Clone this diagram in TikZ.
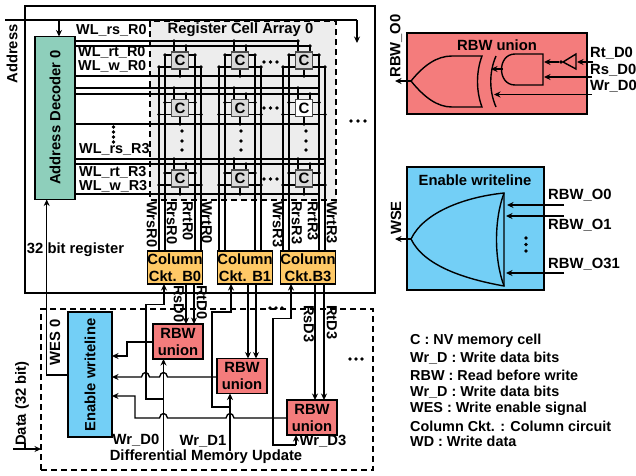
\documentclass[tikz,border=0pt]{standalone}
\usepackage{fontspec}
\setmainfont{Liberation Sans}
\usetikzlibrary{arrows.meta,calc}
\definecolor{teal1}{HTML}{8ECFBB}
\definecolor{gray1}{HTML}{EDEDED}
\definecolor{cellg}{HTML}{D9D9D9}
\definecolor{orng}{HTML}{FFC966}
\definecolor{rbwr}{HTML}{F47C7C}
\definecolor{ewb}{HTML}{73CFF6}
\newcommand{\hopx}[2]{-- (#1+4,#2) .. controls (#1+3,#2-6) and (#1-3,#2-6) .. (#1-4,#2)}
\tikzset{
 txt/.style={font=\bfseries\fontsize{14.8}{16.5}\selectfont,inner sep=0pt,align=center},
 wltxt/.style={font=\bfseries\fontsize{14.4}{16.5}\selectfont,inner sep=0pt,anchor=west},
 ltxt/.style={font=\bfseries\fontsize{14.4}{15}\selectfont,inner sep=0pt,anchor=west},
 vtxt/.style={font=\bfseries\fontsize{14.6}{16}\selectfont,inner sep=0pt,rotate=-90,anchor=west},
 wire/.style={line width=1.35pt,draw=black},
 arr/.style={wire,-{Stealth[length=6.5pt,width=6pt]}},
 solid box/.style={draw=black,line width=1.5pt,inner sep=0pt,outer sep=0pt,align=center,font=\bfseries\fontsize{14.8}{17}\selectfont},
 rbwbox/.style={solid box,fill=rbwr,minimum width=50pt,minimum height=35pt},
 cktbox/.style={solid box,fill=orng,minimum width=54pt,minimum height=33pt},
 cellbox/.style={draw=black!70,line width=1.3pt,fill=cellg,minimum width=17pt,minimum height=17pt,inner sep=0pt,outer sep=0pt,font=\bfseries\fontsize{15}{16}\selectfont},
 dashbox/.style={draw=black,line width=1.3pt,dash pattern=on 6pt off 4pt},
 gate/.style={line width=1.4pt,draw=black},
 pin/.style={circle,fill=black,inner sep=0pt,minimum size=3.6pt},
 bigdot/.style={circle,fill=black,inner sep=0pt,minimum size=3.8pt},
}
\begin{document}
\begin{tikzpicture}[x=1pt,y=-1pt]
\useasboundingbox (0,0) rectangle (636,475);
% frames
\node[draw=black,line width=1.4pt,minimum width=350pt,minimum height=287pt,inner sep=0pt,outer sep=0pt] (outer) at (200,149.5) {};
\fill[gray1] (150,21) rectangle (336,200);
\draw[dashbox] (150,21) rectangle (336,200);
\node[dashbox,minimum width=332pt,minimum height=161pt,inner sep=0pt,outer sep=0pt] (diff) at (207,389.5) {};
% decoder, address
\node[solid box,fill=teal1,minimum width=40pt,minimum height=163pt] (dec) at (55,118) {};
\node[txt,rotate=90] (dectxt) at (55,117.5) {Address Decoder 0};
\coordinate (addrL) at (5,20);
\coordinate (addrR) at (357,20);
\coordinate (addrE) at (357,43);
\draw[wire] (addrL) -- (addrR);
\draw[arr] (addrR) -- (addrE);
\draw[arr] (59,20) -- (dec.north -| 59,0);
\node[txt,rotate=90] (addrtxt) at (12,54) {Address};
\node[txt] (title) at (240.5,30) {Register Cell Array 0};
% wordlines
\foreach \yy/\xe in {41/298,46/310,76/318,88/319,94/319,124/319,159/325,164/325,194/318}
  \draw[wire] (dec.east |- 0,\yy) -- (\xe,\yy);
% bit lines
\foreach \cx/\ck in {180/ckA,240/ckB,304/ckC}{
  \coordinate (t1) at (\cx-21,67); \coordinate (t2) at (\cx-15,55);
  \coordinate (t3) at (\cx+15,55); \coordinate (t4) at (\cx+21,67);
  \draw[wire] (t1) -- (\cx-21,251);
  \draw[wire] (t2) -- (\cx-15,251);
  \draw[wire] (t3) -- (\cx+15,251);
  \draw[wire] (t4) -- (\cx+21,251);
}
% cells
\foreach \cx/\cn in {180/0,240/1,304/2}{
 \foreach \cy/\tp/\bt/\wl/\rn in {60.5/41/46/76/0,108/88/94/124/1,178.5/159/164/194/2}{
  \node[cellbox] (c\cn\rn) at (\cx,\cy) {C};
  \draw[wire] (\cx-6,\cy) -- (\cx-6,\tp) node[pin]{};
  \draw[wire] (\cx+6,\cy) -- (\cx+6,\bt) node[pin]{};
  \draw[wire] (c\cn\rn.south) -- (\cx,\wl) node[pin]{};
  \draw[wire] (c\cn\rn.west |- 0,\cy-5.5) -- (\cx-15,\cy-5.5) node[pin]{};
  \draw[wire] (c\cn\rn.west |- 0,\cy+6.5) -- (\cx-21,\cy+6.5) node[pin]{};
  \draw[wire] (c\cn\rn.east |- 0,\cy-5.5) -- (\cx+15,\cy-5.5) node[pin]{};
  \draw[wire] (c\cn\rn.east |- 0,\cy+6.5) -- (\cx+21,\cy+6.5) node[pin]{};
  \node[cellbox] (d\cn\rn) at (\cx,\cy) {C};
 }
}
\node[cellbox,fill=white] (d12w) at (304,108) {C};
% wordline labels
\node[wltxt] (l1) at (76,30) {WL\_rs\_R0};
\node[wltxt] (l2) at (78,52) {WL\_rt\_R0};
\node[wltxt] (l3) at (78,66) {WL\_w\_R0};
\node[wltxt] (l4) at (79,149) {WL\_rs\_R3};
\node[wltxt] (l5) at (79,172) {WL\_rt\_R3};
\node[wltxt] (l6) at (79,186) {WL\_w\_R3};
% dots
\foreach \n/\px/\py in {a/264/62,b/270.5/62,c/277/62,d/264/108,e/270.5/108,f/277/108,g/264/179,h/270.5/179,i/277/179,j/351/121,k/358/121,l/365/121,
 m/182/131,n/182/141,o/182/150,p/241/131,q/241/141,r/241/150,s/306/131,t/306/141,u/306/150,
 v/113.5/127,w/113.5/132,x/113.5/137,y/113.5/142,
 z/270/308,aa/276/308,ab/282/308,ac/350/359,ad/356/359,ae/362/359}
  \node[bigdot] (dot\n) at (\px,\py) {};
% column circuits
\node[cktbox] (ckA) at (175,267.5) {Column\\Ckt. B0};
\node[cktbox] (ckB) at (245,267.5) {Column\\Ckt. B1};
\node[cktbox] (ckC) at (308,267.5) {Column\\Ckt.B3};
% bit-line labels
\foreach \nm/\px/\tx in {wa/152/WrsR0,wb/172/RrsR0,wc/188/RrtR0,wd/207/WrtR0,we/278/WrsR3,wf/297/RrsR3,wg/313/RrtR3,wh/332/WrtR3}
  \node[vtxt] (\nm) at (\px,201) {\tx};
\node[vtxt] (rsd0) at (179,285) {RsD0};
\node[vtxt] (rtd0) at (202,285) {RtD0};
\node[vtxt] (rsd3) at (309,305) {RsD3};
\node[vtxt] (rtd3) at (332,305) {RtD3};
\node[txt] (reg32) at (75.5,250) {32 bit register};
% lower boxes
\node[solid box,fill=ewb,minimum width=44pt,minimum height=125pt] (ew) at (90,374.5) {};
\node[txt,rotate=90] (ewtxt) at (90,375) {Enable writeline};
\node[rbwbox] (rA) at (178,341.5) {RBW\\union};
\node[rbwbox] (rB) at (242,376) {RBW\\union};
\node[rbwbox] (rC) at (312,417.5) {RBW\\union};
% column to union
\draw[arr] (ckA.south -| 186,0) -- (rA.north -| 186,0);
\draw[arr] (ckA.south -| 194,0) -- (rA.north -| 194,0);
\draw[arr] (ckB.south -| 248,0) -- (rB.north -| 248,0);
\draw[arr] (ckB.south -| 256,0) -- (rB.north -| 256,0);
\draw[arr] (ckC.south -| 315,0) -- (rC.north -| 315,0);
\draw[arr] (ckC.south -| 324,0) -- (rC.north -| 324,0);
% feedback
\coordinate (wd0) at (163.5,451);
\coordinate (wd1) at (230,451);
\draw[arr] (wd0) -- (rA.south -| 163.5,0);
\draw[arr] (wd1) -- (rB.south -| 230,0);
\draw[arr] (163.5,399) -- (146,399) -- (146,304.5) -- (164,304.5) -- (ckA.south -| 164,0);
\draw[arr] (230,407) -- (212,407) -- (212,312) -- (231,312) -- (ckB.south -| 231,0);
\draw[arr] (296,445) -- (273,445) -- (273,318.5) -- (291,318.5) -- (ckC.south -| 291,0);
\draw[arr] (296,445) -- (rC.south -| 296,0);
% union to enable
\draw[arr] (rA.west |- 0,342) -- (127,342) -- (127,356) -- (ew.east |- 0,356);
\draw[arr] (rB.west |- 0,377) \hopx{163.5}{377} \hopx{145.5}{377} -- (ew.east |- 0,377);
\draw[arr] (rC.west |- 0,418) \hopx{230}{418} \hopx{163.5}{418} -- (135,418) -- (135,396) -- (ew.east |- 0,396);
% WES
\draw[arr] (ew.west |- 0,375) -- (46.7,375) -- (dec.south -| 46.7,0);
\node[txt,rotate=90] (wes) at (55,342) {WES 0};
\node[txt,rotate=90] (data) at (22,403.5) {Data (32 bit)};
\coordinate (dataL) at (13,449);
\draw[arr] (dataL) -- (diff.west |- dataL);
\draw[wire] (25,443) -- (25,449);
\node[txt] (wl0) at (136,440) {Wr\_D0};
\node[txt] (wl1) at (203,441) {Wr\_D1};
\node[txt] (wl3) at (323,441) {Wr\_D3};
\node[txt] (dmu) at (206,457) {Differential Memory Update};
% right RBW panel
\node[solid box,fill=rbwr,minimum width=180pt,minimum height=81pt] (pA) at (497,73.5) {};
\node[txt] (pAt) at (497,45) {RBW union};
\coordinate (ortip) at (411,81);
\draw[gate] (ortip) .. controls (424,65) and (437,56) .. (452,56) -- (482,56) .. controls (476,72) and (476,91) .. (482,107) -- (452,107) .. controls (437,107) and (424,97) .. (ortip);
\draw[gate] (496,56) .. controls (489,72) and (489,91) .. (496,107);
\draw[gate] (543,54) -- (515,54) .. controls (497,54) and (497,85) .. (515,85) -- (543,85) -- cycle;
\draw[gate] (563,62) -- (576,54) -- (576,69) -- cycle;
\node[pin] (invdot) at (561,62) {};
\coordinate (rtin) at (593,62); \coordinate (rsin) at (592,77); \coordinate (wrin) at (592,94.5);
\draw[arr] (rtin) -- (577,62);
\draw[arr] (invdot) -- (544,62);
\draw[arr] (rsin) -- (544,77);
\draw[arr] (wrin) -- (494,94.5);
\draw[arr] (503,69) -- (491,69);
\draw[arr] (ortip) -- (395,81);
\node[txt,anchor=west] (t1a) at (590,53) {Rt\_D0};
\node[txt,anchor=west] (t2a) at (590,70) {Rs\_D0};
\node[txt,anchor=west] (t3a) at (590,86) {Wr\_D0};
\node[txt,rotate=90] (rbwo) at (396,46) {RBW\_O0};
% right enable panel
\node[solid box,fill=ewb,minimum width=137pt,minimum height=123pt] (pB) at (475.5,228.5) {};
\node[txt] (pBt) at (475,180) {Enable writeline};
\coordinate (antip) at (411,239);
\draw[gate] (antip) .. controls (424,212) and (465,197) .. (504,193) -- (504,286) .. controls (465,279) and (424,266) .. (antip);
\draw[gate] (504,193) .. controls (494,220) and (494,259) .. (504,286);
\coordinate (in0) at (564,205); \coordinate (in1) at (564,216); \coordinate (in31) at (564,273);
\draw[arr] (in0) -- (507,205);
\draw[arr] (in1) -- (506,216);
\draw[arr] (in31) -- (506,273);
\draw[arr] (antip) -- (395,239);
\node[txt,rotate=90] (wsetxt) at (396,218) {WSE};
\node[txt,anchor=west] (o0) at (548,195) {RBW\_O0};
\node[txt,anchor=west] (o1) at (548,225) {RBW\_O1};
\node[txt,anchor=west] (o31) at (548,264) {RBW\_O31};
\node[bigdot] (da1) at (526,238) {};
\node[bigdot] (da2) at (526,244.5) {};
\node[bigdot] (da3) at (526,251) {};
% legend
\node[ltxt] (lg1) at (410,341) {C : NV memory cell};
\node[ltxt] (lg2) at (410,358) {Wr\_D : Write data bits};
\node[ltxt] (lg3) at (410,375) {RBW : Read before write};
\node[ltxt] (lg4) at (410,392) {Wr\_D : Write data bits};
\node[ltxt] (lg5) at (410,409) {WES : Write enable signal};
\node[ltxt] (lg6) at (410,426) {Column Ckt. : Column circuit};
\node[ltxt] (lg7) at (410,441) {WD : Write data};
\end{tikzpicture}
\end{document}
